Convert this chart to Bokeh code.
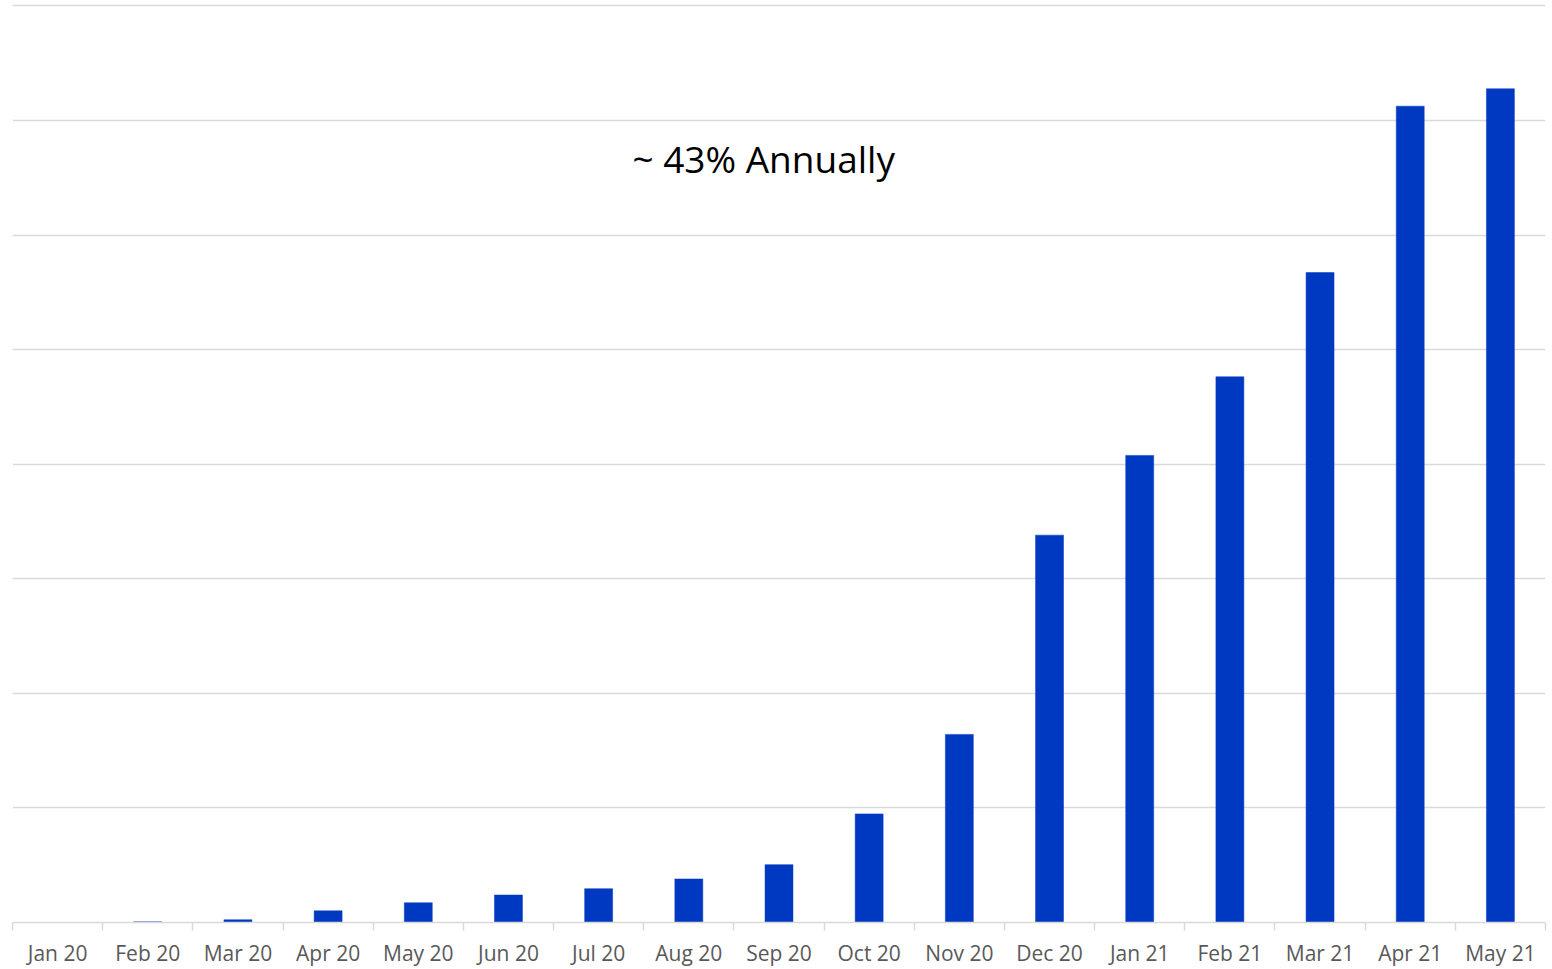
from bokeh.plotting import figure
from bokeh.models import ColumnDataSource, FixedTicker, Label, Range1d
from bokeh.embed import file_html
from bokeh.resources import INLINE

months = ["Jan 20", "Feb 20", "Mar 20", "Apr 20", "May 20", "Jun 20", "Jul 20",
          "Aug 20", "Sep 20", "Oct 20", "Nov 20", "Dec 20", "Jan 21", "Feb 21",
          "Mar 21", "Apr 21", "May 21"]
values = [0.0, 0.006, 0.024, 0.102, 0.172, 0.240, 0.295, 0.380, 0.505, 0.948,
          1.642, 3.381, 4.077, 4.763, 5.673, 7.125, 7.277]
annotation_text = "~ 43% Annually"

n = len(months)
centers = [i + 0.5 for i in range(n)]
source = ColumnDataSource(dict(x=centers, top=values, month=months))

p = figure(width=1550, height=969, output_backend="svg", toolbar_location=None,
           x_range=Range1d(0, n), y_range=Range1d(0, 8.03),
           min_border_left=12, min_border_right=5, min_border_top=2,
           min_border_bottom=0)
p.outline_line_color = None
p.background_fill_color = "white"
p.border_fill_color = "white"

p.vbar(x="x", top="top", bottom=0, width=0.31, source=source,
       fill_color="#0039C1", line_color="#0039C1", line_width=0.5)

p.yaxis.visible = False
p.xgrid.grid_line_color = None
p.ygrid.ticker = FixedTicker(ticks=list(range(0, 9)))
p.ygrid.grid_line_color = "#D9D9D9"
p.ygrid.grid_line_width = 1.5

xa = p.xaxis[0]
xa.ticker = FixedTicker(ticks=centers, minor_ticks=list(range(0, n + 1)))
xa.major_label_overrides = {c: m for c, m in zip(centers, months)}
xa.major_tick_line_color = None
xa.major_tick_out = 0
xa.major_tick_in = 0
xa.minor_tick_line_color = "#D9D9D9"
xa.minor_tick_line_width = 1.5
xa.minor_tick_out = 8
xa.minor_tick_in = 0
xa.axis_line_color = "#D9D9D9"
xa.axis_line_width = 1.5
xa.major_label_text_font = "Open Sans"
xa.major_label_text_font_size = "21px"
xa.major_label_text_color = "#595959"
xa.major_label_standoff = 8

p.add_layout(Label(x=8.33, y=6.665, text=annotation_text, text_align="center",
                   text_baseline="alphabetic", text_font="Open Sans",
                   text_font_size="37px", text_color="black"))

open("out.html", "w").write(file_html(p, INLINE))
